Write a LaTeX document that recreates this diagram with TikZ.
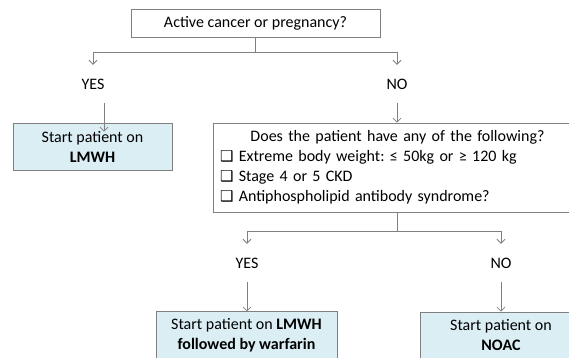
\documentclass[tikz,border=0pt]{standalone}
\usepackage{fontspec}
\setmainfont{Carlito}
\newfontfamily\symfont{DejaVu Sans}
\usetikzlibrary{arrows.meta}
\definecolor{boxblue}{RGB}{219,238,244}
\definecolor{linegray}{RGB}{128,128,128}
\newcommand{\chkbox}{{\symfont\fontsize{15}{15}\selectfont ❑}}
\frenchspacing

\begin{document}
\begin{tikzpicture}[x=1pt,y=1pt]
\tikzstyle{every node}+=[font=\fontsize{16}{20}\selectfont]
\tikzstyle{box}=[draw=linegray, line width=0.75pt, inner sep=7pt, align=center]
\tikzstyle{drug}=[box, fill=boxblue, minimum height=47pt]
\tikzstyle{answer}=[inner sep=0pt, outer ysep=14pt]
\tikzstyle{arrow}=[draw=linegray, line width=0.75pt, -{Straight Barb[length=4pt,width=8pt]}]
\fill [white] (0,0) rectangle (569,-357);
\useasboundingbox (0,0) rectangle (569,-357);
\node [box, minimum width=249pt, minimum height=26pt] (cancer) at (255.5,-23) {Active cancer or pregnancy?};
\node [answer] (yes1) at (93,-84) {YES};
\node [answer] (no1) at (397,-84) {NO};
\node [drug, minimum width=159pt] (lmwh) at (92.5,-146.5) {Start patient on\\\textbf{LMWH}};
\node [box, text width=355pt, align=left, minimum height=89pt] (crit) at (397.5,-167.5) {\centerline{Does the patient have any of the following?}
\chkbox{} Extreme body weight: ≤ 50kg or ≥ 120 kg\\
\chkbox{} Stage 4 or 5 CKD\\
\chkbox{} Antiphospholipid antibody syndrome?};
\node [answer] (yes2) at (247,-263) {YES};
\node [answer] (no2) at (501,-263) {NO};
\node [drug, minimum width=181pt] (warf) at (246.5,-335.5) {Start patient on \textbf{LMWH}\\\textbf{followed by warfarin}};
\node [drug, minimum width=162pt] (noac) at (501,-335.5) {Start patient on\\\textbf{NOAC}};
\coordinate (fork1) at (255.5,-52);
\coordinate (fork2) at (397.5,-231);
\draw [arrow] (cancer.south) -- (fork1) -| (yes1.north);
\draw [arrow] (fork1) -| (no1.north);
\draw [arrow] ([xshift=11pt]yes1.south) -- ([xshift=11.5pt,yshift=-9pt]lmwh.north);
\draw [arrow] (no1.south) -- (no1.south |- crit.north);
\draw [arrow] (crit.south) -- (fork2) -| (yes2.north);
\draw [arrow] (fork2) -| (no2.north);
\draw [arrow] (yes2.south) -- (yes2.south |- warf.north);
\draw [arrow] (no2.south) -- (no2.south |- noac.north);
\end{tikzpicture}
\end{document}
